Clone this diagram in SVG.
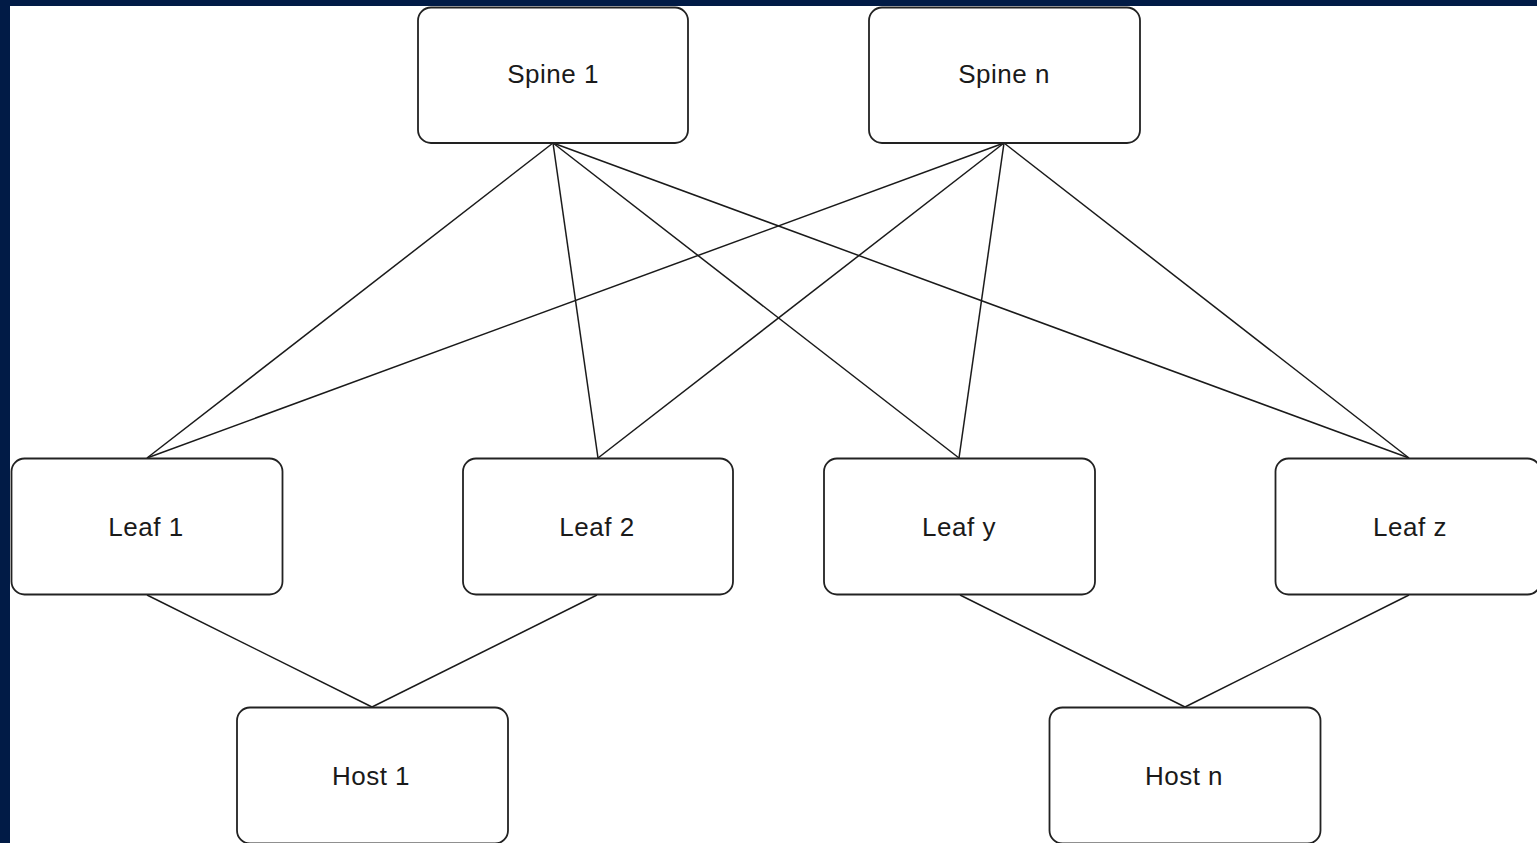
<svg xmlns="http://www.w3.org/2000/svg" width="1537" height="843" viewBox="0 0 1537 843">
<style>
.bg{fill:#011b46}
.node rect{fill:#ffffff;stroke:#222222;stroke-width:1.8}
.node text{font-family:"Liberation Sans",Arial,sans-serif;font-size:26px;letter-spacing:0.5px;fill:#1a1a1a;text-anchor:middle}
#connectors line{stroke:#1a1a1a;stroke-width:1.5}
</style>
<rect class="bg" x="0" y="0" width="1537" height="843"/>
<rect x="10" y="6" width="1527" height="837" fill="#ffffff"/>
<g id="connectors">
<line x1="553" y1="143" x2="147" y2="458"/>
<line x1="553" y1="143" x2="598" y2="458"/>
<line x1="553" y1="143" x2="959" y2="458"/>
<line x1="553" y1="143" x2="1409" y2="458"/>
<line x1="1004" y1="143" x2="147" y2="458"/>
<line x1="1004" y1="143" x2="598" y2="458"/>
<line x1="1004" y1="143" x2="959" y2="458"/>
<line x1="1004" y1="143" x2="1409" y2="458"/>
<line x1="147" y1="595" x2="372" y2="707"/>
<line x1="597" y1="595" x2="372" y2="707"/>
<line x1="960" y1="595" x2="1185" y2="707"/>
<line x1="1409" y1="595" x2="1185" y2="707"/>
</g>
<g id="spine1" class="node"><rect x="418" y="7.5" width="270" height="135.5" rx="13"/><text x="553" y="83">Spine 1</text></g>
<g id="spinen" class="node"><rect x="869" y="7.5" width="271" height="135.5" rx="13"/><text x="1004" y="83">Spine n</text></g>
<g id="leaf1" class="node"><rect x="11.5" y="458.5" width="271" height="136" rx="13"/><text x="146" y="536">Leaf 1</text></g>
<g id="leaf2" class="node"><rect x="463" y="458.5" width="270" height="136" rx="13"/><text x="597" y="536">Leaf 2</text></g>
<g id="leafy" class="node"><rect x="824" y="458.5" width="271" height="136" rx="13"/><text x="959" y="536">Leaf y</text></g>
<g id="leafz" class="node"><rect x="1275.5" y="458.5" width="265" height="136" rx="13"/><text x="1410" y="536">Leaf z</text></g>
<g id="host1" class="node"><rect x="237" y="707.5" width="271" height="136" rx="13"/><text x="371" y="785">Host 1</text></g>
<g id="hostn" class="node"><rect x="1049.5" y="707.5" width="271" height="136" rx="13"/><text x="1184" y="785">Host n</text></g>
</svg>
